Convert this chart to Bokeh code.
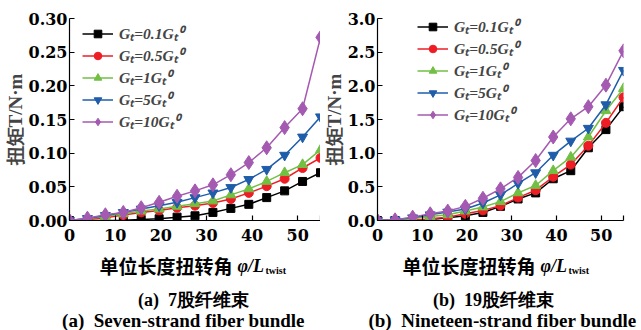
import numpy as np
from bokeh.plotting import figure
from bokeh.layouts import row, column
from bokeh.models import (FixedTicker, PrintfTickFormatter, Legend, LegendItem,
                          Range1d)
from bokeh.core.properties import value
from bokeh.embed import file_html
from bokeh.resources import INLINE

# ---------------- data ----------------
phi = [0, 3.93, 7.86, 11.79, 15.71, 19.64, 23.57, 27.5, 31.43, 35.36,
       39.29, 43.21, 47.14, 51.07, 55]

# (a) seven-strand bundle, torque T (N·m)
a_g01 = [0, 0, 0, 0.0005, 0.0015, 0.0025, 0.005, 0.007, 0.012, 0.018,
         0.024, 0.034, 0.044, 0.058, 0.071]
a_g05 = [0, 0.0015, 0.004, 0.008, 0.012, 0.015, 0.019, 0.022, 0.026, 0.032,
         0.041, 0.051, 0.062, 0.078, 0.093]
a_g1 = [0, 0.0025, 0.006, 0.010, 0.014, 0.017, 0.021, 0.025, 0.029, 0.038,
        0.047, 0.058, 0.071, 0.083, 0.105]
a_g5 = [0, 0.003, 0.0075, 0.012, 0.017, 0.022, 0.027, 0.034, 0.041, 0.049,
        0.061, 0.076, 0.097, 0.124, 0.154]
a_g10 = [0, 0.0035, 0.0085, 0.012, 0.019, 0.027, 0.036, 0.044, 0.053, 0.068,
         0.086, 0.108, 0.138, 0.166, 0.272]

# (b) nineteen-strand bundle
b_g01 = [0, 0, 0, 0.015, 0.04, 0.07, 0.12, 0.21, 0.32, 0.41,
         0.62, 0.74, 1.08, 1.35, 1.69]
b_g05 = [0, 0, 0, 0.025, 0.05, 0.10, 0.15, 0.22, 0.34, 0.45,
         0.65, 0.83, 1.11, 1.45, 1.83]
b_g1 = [0, 0.01, 0.025, 0.06, 0.085, 0.14, 0.20, 0.28, 0.41, 0.52,
        0.74, 0.94, 1.24, 1.63, 1.96]
b_g5 = [0, 0.01, 0.04, 0.085, 0.125, 0.17, 0.26, 0.38, 0.55, 0.71,
        0.97, 1.18, 1.37, 1.72, 2.23]
b_g10 = [0, 0.01, 0.05, 0.10, 0.14, 0.21, 0.33, 0.47, 0.64, 0.89,
         1.24, 1.51, 1.69, 2.01, 2.52]

labels = ["G\u209c=0.1G\u209c\u2070", "G\u209c=0.5G\u209c\u2070", "G\u209c=1G\u209c\u2070",
          "G\u209c=5G\u209c\u2070", "G\u209c=10G\u209c\u2070"]
colors = ["#000000", "#ee1d25", "#72bf44", "#1f5daa", "#a45ab0"]
markers = ["square", "circle", "triangle", "inverted_triangle", "diamond"]
msizes = [8, 9, 10, 10, 14]

x_ticks = [0, 10, 20, 30, 40, 50, 55]
a_yticks = [0, 0.05, 0.10, 0.15, 0.20, 0.25, 0.30]
b_yticks = [0, 0.5, 1.0, 1.5, 2.0, 2.5, 3.0]

x_title = "单位长度扭转角"
x_sym = "φ/L"
x_sub = "twist"
captions_cn = ["(a)\u00a0\u00a07股纤维束", "(b)\u00a0\u00a019股纤维束"]
captions_en = ["(a)\u00a0\u00a0Seven-strand fiber bundle",
               "(b)\u00a0\u00a0Nineteen-strand fiber bundle"]

TICK_FONT = "DejaVu Serif"
SERIF = "Liberation Serif"


def make_panel(series, yticks, yfmt, ymax, width, bl, br, leg_loc):
    p = figure(width=width, height=250, output_backend="svg", toolbar_location=None,
               x_range=Range1d(0, 55), y_range=Range1d(0, ymax),
               min_border_left=bl, min_border_right=br, min_border_top=18,
               min_border_bottom=30)
    p.outline_line_color = None
    p.grid.visible = False

    items = []
    for ys, c, m, s, lab in zip(series, colors, markers, msizes, labels):
        ln = p.line(phi, ys, line_color=c, line_width=1.5)
        sc = p.scatter(phi, ys, marker=m, size=s, fill_color=c, line_color=c)
        items.append(LegendItem(label=lab, renderers=[ln, sc]))

    leg = Legend(items=items, location=leg_loc, label_text_font=SERIF,
                 label_text_font_style="bold italic", label_text_font_size="15.5px",
                 label_height=19, glyph_height=19, glyph_width=31, spacing=0,
                 padding=0, margin=0, label_standoff=6,
                 background_fill_alpha=0, border_line_color=None)
    p.add_layout(leg)

    xa = p.xaxis[0]
    xa.ticker = FixedTicker(ticks=x_ticks)
    xa.major_label_overrides = {55: ""}
    ya = p.yaxis[0]
    ya.ticker = FixedTicker(ticks=yticks)
    ya.formatter = PrintfTickFormatter(format=yfmt)
    for ax in (xa, ya):
        ax.major_tick_in = 5
        ax.major_tick_out = 0
        ax.minor_tick_line_color = None
        ax.axis_line_width = 1.2
        ax.major_tick_line_width = 1.2
        ax.major_label_text_font = TICK_FONT
        ax.major_label_text_font_style = "bold"
        ax.major_label_text_font_size = "16px"
        ax.major_label_text_color = "black"
    xa.major_label_standoff = 8
    ya.major_label_standoff = 2
    ya.axis_label = "扭矩T/N·m"
    ya.axis_label_text_font = SERIF
    ya.axis_label_text_font_style = "bold"
    ya.axis_label_text_font_size = "19px"
    ya.axis_label_standoff = 0
    return p


pa = make_panel([a_g01, a_g05, a_g1, a_g5, a_g10], a_yticks, "%.2f", 0.30,
                320, 69, 0, (13, 88))
pb = make_panel([b_g01, b_g05, b_g1, b_g5, b_g10], b_yticks, "%.1f", 3.0,
                321, 53, 18, (40, 95))

# bottom strip with axis titles and captions (screen-like coordinates)
bot = figure(width=641, height=80, output_backend="svg", toolbar_location=None,
             x_range=Range1d(0, 641), y_range=Range1d(80, 0),
             x_axis_type=None, y_axis_type=None, min_border=0)
bot.outline_line_color = None
bot.grid.visible = False

title_right = [232, 535]
bot.text(x=title_right, y=[15, 15], text=[x_title] * 2, text_align="right",
         text_baseline="middle", text_font=value("Noto Sans CJK SC"),
         text_font_style="bold", text_font_size="19px", text_color="black")
bot.text(x=[t + 5 for t in title_right], y=[15, 15], text=[x_sym] * 2,
         text_align="left", text_baseline="middle", text_font=value(SERIF),
         text_font_style="bold italic", text_font_size="18px", text_color="black")
bot.text(x=[t + 33 for t in title_right], y=[20, 20], text=[x_sub] * 2,
         text_align="left", text_baseline="middle", text_font=value(SERIF),
         text_font_style="bold", text_font_size="10px", text_color="black")
bot.text(x=[193, 493], y=[49, 49], text=captions_cn, text_align="center",
         text_baseline="middle", text_font=value(SERIF), text_font_style="bold",
         text_font_size="18px", text_color="black")
bot.text(x=[183, 502], y=[70, 70], text=captions_en, text_align="center",
         text_baseline="middle", text_font=value(SERIF), text_font_style="bold",
         text_font_size="19px", text_color="black")

layout = column(row(pa, pb, spacing=0), bot, spacing=0)
open("out.html", "w").write(file_html(layout, INLINE))
